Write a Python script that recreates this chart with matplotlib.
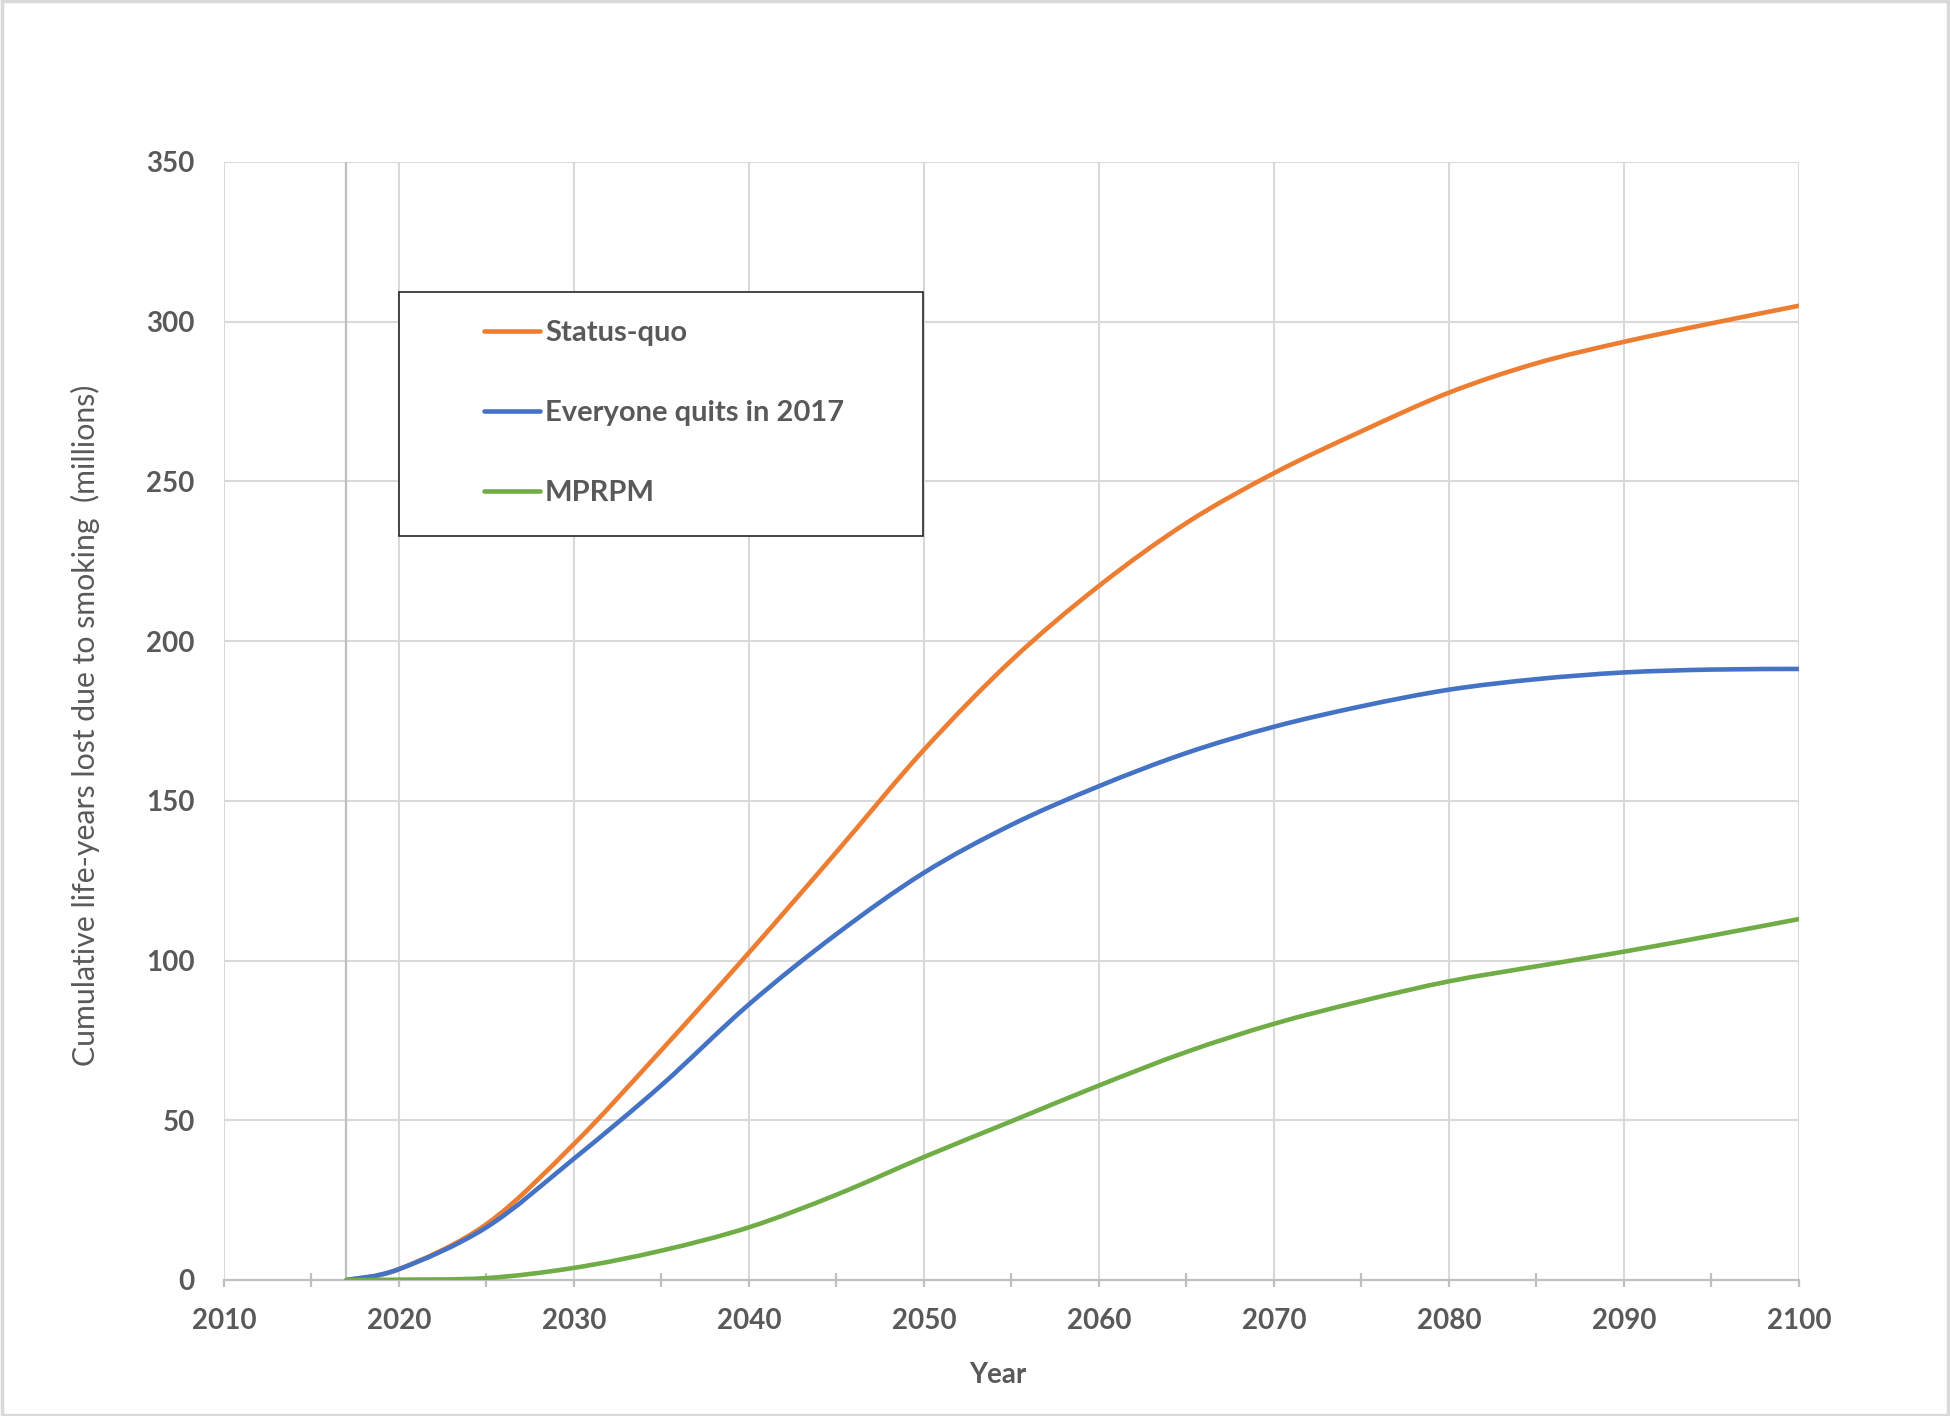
import matplotlib
matplotlib.use("Agg")
import matplotlib.pyplot as plt
from matplotlib.patches import Rectangle, PathPatch
from matplotlib.path import Path
from matplotlib.lines import Line2D
from matplotlib.ticker import MultipleLocator

plt.rcParams['font.family'] = ['Lato', 'DejaVu Sans']

# ---------------- data ----------------
years = [2017, 2020, 2025, 2030, 2035, 2040, 2045, 2050, 2055, 2060, 2065, 2070,
         2075, 2080, 2085, 2090, 2095, 2100]
status_quo = [0, 3.4, 17.5, 42.6, 72.0, 102.5, 134, 166, 194, 217.3, 237, 252.6,
              265.7, 277.8, 287, 293.7, 299.5, 305]
everyone_quits = [0, 3.4, 16.5, 38, 61, 86.3, 108.3, 127.5, 142.5, 154.6, 165, 173.2,
                  179.6, 184.8, 188.1, 190.2, 191.1, 191.3]
mprpm = [0, 0.1, 0.6, 3.8, 9.2, 16.5, 26.7, 38.5, 49.7, 60.9, 71.4, 80.2,
         87.3, 93.5, 98.2, 102.8, 107.8, 113]

series_labels = ["Status-quo", "Everyone quits in 2017", "MPRPM"]
series_colors = ["#ED7D31", "#4472C4", "#70AD47"]
axis_cross_year = 2017
x_ticks = list(range(2010, 2101, 10))
y_ticks = list(range(0, 351, 50))
x_label = "Year"
y_label = "Cumulative life-years lost due to smoking  (millions)"

# ---------------- figure ----------------
W, H = 1950, 1416
fig = plt.figure(figsize=(W / 100, H / 100), dpi=100)
ax = fig.add_axes([224 / W, 1 - 1280 / H, (1799 - 224) / W, (1280 - 162) / H])

txt = "#595959"
grid_c = "#d9d9d9"
axis_c = "#bfbfbf"
lw = 3.3


def smooth_line(ax, xs, ys, color):
    """Excel-style smoothed line: Catmull-Rom segments rendered as cubic Beziers."""
    pts = list(zip(xs, ys))
    n = len(pts)
    verts = [pts[0]]
    codes = [Path.MOVETO]
    for i in range(n - 1):
        p0 = pts[i - 1] if i > 0 else pts[i]
        p1 = pts[i]
        p2 = pts[i + 1]
        p3 = pts[i + 2] if i + 2 < n else pts[i + 1]
        c1 = (p1[0] + (p2[0] - p0[0]) / 6, p1[1] + (p2[1] - p0[1]) / 6)
        c2 = (p2[0] - (p3[0] - p1[0]) / 6, p2[1] - (p3[1] - p1[1]) / 6)
        verts += [c1, c2, p2]
        codes += [Path.CURVE4] * 3
    patch = PathPatch(Path(verts, codes), facecolor="none", edgecolor=color, lw=lw,
                      capstyle="round", joinstyle="round", zorder=3)
    ax.add_patch(patch)


smooth_line(ax, years, status_quo, series_colors[0])
smooth_line(ax, years, everyone_quits, series_colors[1])
smooth_line(ax, years, mprpm, series_colors[2])

ax.set_xlim(2010, 2100)
ax.set_ylim(0, 350)
ax.set_xticks(x_ticks)
ax.set_yticks(y_ticks)
ax.xaxis.set_minor_locator(MultipleLocator(5))

ax.grid(True, which="major", color=grid_c, lw=1.5, zorder=0)
ax.set_axisbelow(True)
for s in ["top", "right", "left"]:
    ax.spines[s].set_visible(False)
ax.spines["bottom"].set_color(axis_c)
ax.spines["bottom"].set_linewidth(1.6)
ax.spines["bottom"].set_zorder(1)

ax.axvline(axis_cross_year, color=axis_c, lw=1.6, zorder=1)

ax.tick_params(axis="x", which="major", direction="out", length=5, width=1.6, color=axis_c,
               labelsize=20, labelcolor=txt, pad=15)
ax.tick_params(axis="x", which="minor", direction="inout", length=10, width=1.6, color=axis_c)
ax.tick_params(axis="y", which="major", length=0, labelsize=20, labelcolor=txt, pad=21)
for lab in ax.get_xticklabels() + ax.get_yticklabels():
    lab.set_fontweight("bold")

fig.text(85 / W, 1 - 725 / H, y_label, rotation=90, ha="center", va="center",
         fontsize=21.8, color=txt)
fig.text(998 / W, 1 - 1375 / H, x_label, ha="center", va="center",
         fontsize=20, color=txt, fontweight="bold")

# legend box
bx0, bx1 = (399 - 224) / 1575, (923 - 224) / 1575
by1, by0 = (1280 - 292) / 1118, (1280 - 536) / 1118
ax.add_patch(Rectangle((bx0, by0), bx1 - bx0, by1 - by0, transform=ax.transAxes,
                       facecolor="white", edgecolor="#262626", lw=1.2, zorder=4))
handles = [Line2D([], [], color=c, lw=lw, solid_capstyle="round") for c in series_colors]
leg = ax.legend(handles=handles, labels=series_labels, loc="center left",
                bbox_to_anchor=((484 - 224) / 1575, (1280 - 413) / 1118),
                frameon=False, fontsize=21, handlelength=1.92, handletextpad=0.17,
                labelspacing=1.86, borderpad=0, borderaxespad=0)
leg.set_zorder(5)
for t in leg.get_texts():
    t.set_color(txt)
    t.set_fontweight("bold")

# chart border
fig.patches.append(Rectangle((0.001, 0.001), 0.998, 0.998, transform=fig.transFigure,
                             facecolor="none", edgecolor="#d9d9d9", lw=2.5))

fig.savefig("out.png", dpi=100)
